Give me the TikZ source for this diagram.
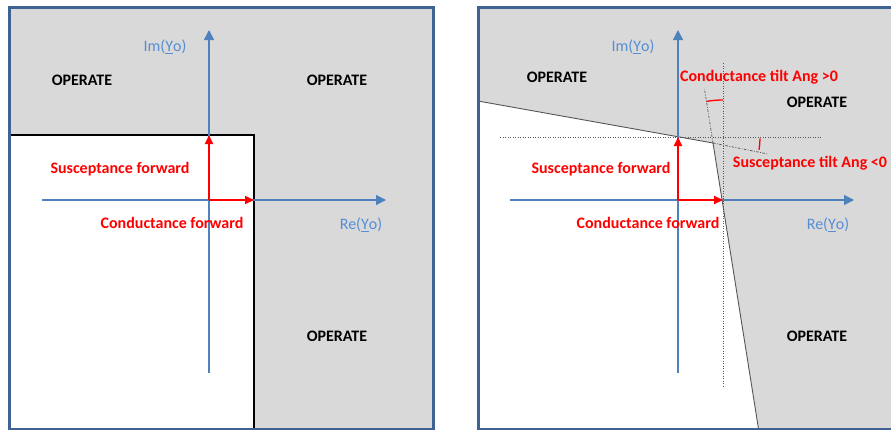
\documentclass[tikz,border=0pt]{standalone}
\usepackage{fontspec}
\setmainfont{Carlito}
\usetikzlibrary{arrows.meta}
\definecolor{framecol}{HTML}{3F6294}
\definecolor{fillgray}{HTML}{D9D9D9}
\definecolor{axiscol}{HTML}{4F81BD}
\definecolor{axlabcol}{HTML}{558ED5}
\definecolor{redcol}{HTML}{FF0000}
\definecolor{bndcol}{HTML}{555555}
\tikzset{
  frame/.style={draw=framecol,line width=3pt,fill=fillgray},
  axisline/.style={draw=axiscol,line width=1.4pt,-{Triangle[length=10pt,width=10pt]}},
  redarrow/.style={draw=redcol,line width=2pt,-{Triangle[length=9pt,width=8pt]}},
  oplab/.style={font=\bfseries\fontsize{16}{19}\selectfont,text=black,inner sep=0pt},
  axlab/.style={font=\fontsize{16}{19}\selectfont,text=axlabcol,inner sep=0pt},
  redlab/.style={font=\bfseries\fontsize{16}{19}\selectfont,text=redcol,inner sep=0pt},
  bound/.style={draw=bndcol,line width=0.9pt},
  guide/.style={draw=bndcol,line width=0.6pt,dash pattern=on 1pt off 1.5pt},
  ext/.style={draw=bndcol,line width=0.7pt,dash pattern=on 2.5pt off 1.5pt on 0.8pt off 1.5pt},
  tiltarc/.style={draw=redcol,line width=1.3pt}
}
\begin{document}
\begin{tikzpicture}[x=1pt,y=-1pt]
\useasboundingbox (0,0) rectangle (891,429);
\clip (0,0) rectangle (891,429);
% ---------- left panel ----------
\coordinate (fL1) at (9,7);
\coordinate (fL2) at (433,429.5);
\fill[fillgray] (fL1) rectangle (fL2);
\coordinate (wL1) at (9,135);
\coordinate (wL2) at (254,135);
\coordinate (wL3) at (254,432);
\fill[white] (wL1) rectangle (wL3);
\draw[black,line width=1.3pt] (wL1) -- (wL2) -- (wL3);
\draw[draw=framecol,line width=3pt] (fL1) rectangle (fL2);
\coordinate (oL) at (209,200);
\coordinate (vLb) at (209,373);
\coordinate (vLt) at (209,30);
\coordinate (hLl) at (42,200);
\coordinate (hLr) at (386,200);
\draw[axisline] (vLb) -- (vLt);
\draw[axisline] (hLl) -- (hLr);
\coordinate (sL) at (209,135);
\coordinate (cL) at (254,200);
\draw[redarrow] (oL) -- (sL);
\draw[redarrow] (oL) -- (cL);
\node[oplab] (opL1) at (82,80) {OPERATE};
\node[oplab] (opL2) at (337,80) {OPERATE};
\node[oplab] (opL3) at (337,336) {OPERATE};
\node[axlab] (imL) at (165,47) {Im(\underline{Y}o)};
\node[axlab] (reL) at (361,225) {Re(\underline{Y}o)};
\node[redlab] (susL) at (120,169) {Susceptance forward};
\node[redlab] (conL) at (172,223) {Conductance forward};
% ---------- right panel ----------
\coordinate (fR1) at (478,7);
\coordinate (fR2) at (900,429.5);
\fill[fillgray] (fR1) rectangle (fR2);
\coordinate (bA) at (478,101);
\coordinate (bC) at (713,143);
\coordinate (bD) at (759,432);
\fill[white] (bA) -- (bC) -- (bD) -- (478,432) -- cycle;
\draw[bound] (bA) -- (bC) -- (bD);
\draw[draw=framecol,line width=3pt] (fR1) rectangle (fR2);
\coordinate (gh1) at (500,137);
\coordinate (gh2) at (822,137);
\coordinate (gv1) at (723,63);
\coordinate (gv2) at (723,387);
\draw[guide] (gh1) -- (gh2);
\draw[guide] (gv1) -- (gv2);
\coordinate (e1) at (704.5,89);
\coordinate (e2) at (768,154);
\draw[ext] (bC) -- (e1);
\draw[ext] (bC) -- (e2);
\coordinate (oR) at (678,200);
\coordinate (vRb) at (678,373);
\coordinate (vRt) at (678,30);
\coordinate (hRl) at (510,200);
\coordinate (hRr) at (854,200);
\draw[axisline] (vRb) -- (vRt);
\draw[axisline] (hRl) -- (hRr);
\coordinate (sR) at (678,137);
\coordinate (cR) at (723,200);
\draw[redarrow] (oR) -- (sR);
\draw[redarrow] (oR) -- (cR);
\coordinate (a1) at (723,100);
\draw[tiltarc] (a1) arc[start angle=90,end angle=99.5,radius=100pt];
\coordinate (a2) at (760,138.4);
\draw[tiltarc] (a2) arc[start angle=-1,end angle=-9,radius=82pt];
\node[oplab] (opR1) at (557,77) {OPERATE};
\node[oplab] (opR2) at (817,102) {OPERATE};
\node[oplab] (opR3) at (817,336) {OPERATE};
\node[axlab] (imR) at (633,47) {Im(\underline{Y}o)};
\node[axlab] (reR) at (828,225) {Re(\underline{Y}o)};
\node[redlab] (ctR) at (759,77) {Conductance tilt Ang >0};
\node[redlab] (stR) at (810,163) {Susceptance tilt Ang <0};
\node[redlab] (susR) at (601,169) {Susceptance forward};
\node[redlab] (conR) at (648,223) {Conductance forward};
\end{tikzpicture}
\end{document}
